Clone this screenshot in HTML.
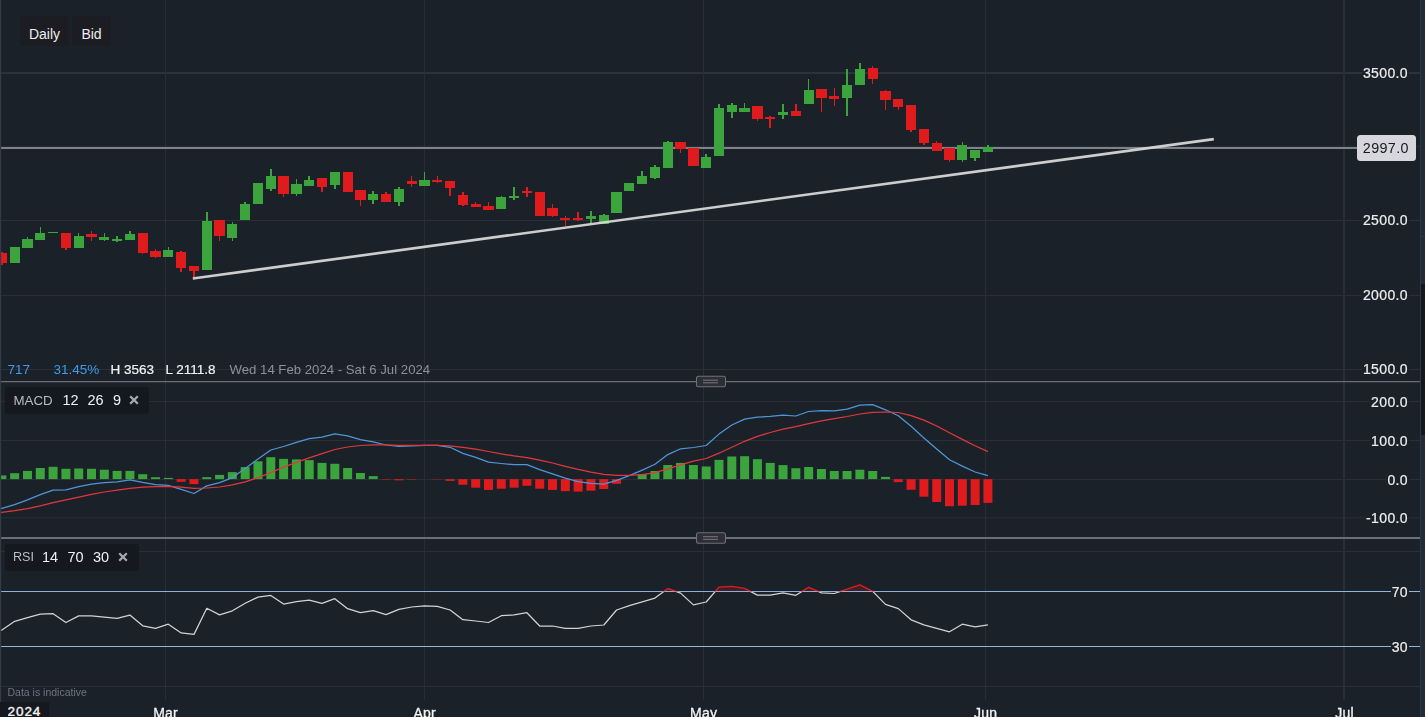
<!DOCTYPE html>
<html><head><meta charset="utf-8"><title>Chart</title>
<style>
html,body{margin:0;padding:0;}
html{overflow:hidden;width:1425px;height:717px;background:#1b2129;}
body{width:1425px;height:717px;overflow:hidden;background:#1b2129;position:relative;font-family:"Liberation Sans",sans-serif;}
.yl{position:absolute;right:16px;height:18px;line-height:18px;font-size:14px;color:#ececec;-webkit-text-stroke:0.22px #ececec;background:#1b2129;padding:0 1px 0 1px;letter-spacing:0.37px;white-space:nowrap;}
.gs{position:absolute;left:0;top:0;width:1425px;height:717px;will-change:transform;overflow:hidden;}
.xl{position:absolute;top:704.9px;height:12.1px;overflow:hidden;width:60px;text-align:center;font-size:14px;letter-spacing:0.2px;color:#f4f4f4;-webkit-text-stroke:0.3px #f4f4f4;line-height:16px;white-space:nowrap;}
.btn{position:absolute;top:16px;height:30px;line-height:36px;background:#1b1d22;border-radius:3px;color:#eeeeee;font-size:14px;text-align:center;}
.tag{position:absolute;left:5px;height:27px;line-height:27px;background:#15181e;border-radius:3px;font-size:14.5px;color:#f0f0f0;white-space:nowrap;}
.tag span{position:absolute;top:0;}
.info{position:absolute;top:360.6px;height:17px;line-height:17px;font-size:13.5px;white-space:nowrap;}
.med{-webkit-text-stroke:0.22px #f0f0f0;color:#f0f0f0;}
</style></head><body>
<svg width="1425" height="717" viewBox="0 0 1425 717" style="position:absolute;left:0;top:0">
<defs><clipPath id="plot"><rect x="0" y="0" width="1420" height="700"/></clipPath><clipPath id="above70"><rect x="0" y="540" width="1420" height="51.5"/></clipPath><clipPath id="below70"><rect x="0" y="591.5" width="1420" height="110"/></clipPath></defs>
<line x1="0" y1="73" x2="1420" y2="73" stroke="#2c323c" stroke-width="1.8"/>
<line x1="0" y1="146.7" x2="1420" y2="146.7" stroke="#2a2e38" stroke-width="1"/>
<line x1="0" y1="220.5" x2="1420" y2="220.5" stroke="#2a2e38" stroke-width="1"/>
<line x1="0" y1="295.5" x2="1420" y2="295.5" stroke="#2a2e38" stroke-width="1"/>
<line x1="0" y1="369.5" x2="1420" y2="369.5" stroke="#2a2e38" stroke-width="1"/>
<line x1="0" y1="401.5" x2="1420" y2="401.5" stroke="#2a2e38" stroke-width="1"/>
<line x1="0" y1="440.5" x2="1420" y2="440.5" stroke="#2a2e38" stroke-width="1"/>
<line x1="0" y1="479.5" x2="1420" y2="479.5" stroke="#2a2e38" stroke-width="1"/>
<line x1="0" y1="517.8" x2="1420" y2="517.8" stroke="#2a2e38" stroke-width="1"/>
<line x1="0" y1="551.5" x2="1420" y2="551.5" stroke="#2a2e38" stroke-width="1"/>
<line x1="0" y1="686.5" x2="1420" y2="686.5" stroke="#2a2e38" stroke-width="1"/>
<line x1="165.5" y1="0" x2="165.5" y2="700" stroke="#2a2e38" stroke-width="1"/>
<line x1="424.4" y1="0" x2="424.4" y2="700" stroke="#2a2e38" stroke-width="1"/>
<line x1="703.5" y1="0" x2="703.5" y2="700" stroke="#2a2e38" stroke-width="1"/>
<line x1="985.5" y1="0" x2="985.5" y2="700" stroke="#2a2e38" stroke-width="1"/>
<line x1="1344" y1="0" x2="1344" y2="700" stroke="#2a2e38" stroke-width="2"/>
<line x1="0" y1="381.6" x2="1420" y2="381.6" stroke="#6a6c79" stroke-width="1.3"/>
<line x1="0" y1="538" x2="1420" y2="538" stroke="#6c6e7c" stroke-width="2"/>
<line x1="0" y1="148" x2="1360" y2="148" stroke="#80828b" stroke-width="1.9"/>
<g clip-path="url(#plot)">
<rect x="1" y="252" width="2" height="13.00" fill="#df1b1d" shape-rendering="crispEdges"/>
<rect x="-2" y="253" width="9" height="10.00" fill="#df1b1d" shape-rendering="crispEdges"/>
<rect x="10" y="247" width="10" height="16.00" fill="#3ca43c" shape-rendering="crispEdges"/>
<rect x="27" y="237" width="1" height="11.00" fill="#3ca43c" shape-rendering="crispEdges"/>
<rect x="22" y="239" width="11" height="9.00" fill="#3ca43c" shape-rendering="crispEdges"/>
<rect x="40" y="227" width="1" height="13.00" fill="#3ca43c" shape-rendering="crispEdges"/>
<rect x="35" y="233" width="10" height="7.00" fill="#3ca43c" shape-rendering="crispEdges"/>
<rect x="48" y="232" width="10" height="1.00" fill="#3ca43c" shape-rendering="crispEdges"/>
<rect x="65" y="233" width="2" height="17.00" fill="#df1b1d" shape-rendering="crispEdges"/>
<rect x="61" y="233" width="10" height="15.00" fill="#df1b1d" shape-rendering="crispEdges"/>
<rect x="78" y="233" width="1" height="15.00" fill="#3ca43c" shape-rendering="crispEdges"/>
<rect x="74" y="235.9" width="10" height="12.10" fill="#3ca43c" shape-rendering="crispEdges"/>
<rect x="91" y="231" width="1" height="9.90" fill="#df1b1d" shape-rendering="crispEdges"/>
<rect x="86" y="234" width="11" height="3.00" fill="#df1b1d" shape-rendering="crispEdges"/>
<rect x="104" y="233" width="1" height="8.00" fill="#3ca43c" shape-rendering="crispEdges"/>
<rect x="99" y="237" width="10" height="3.00" fill="#3ca43c" shape-rendering="crispEdges"/>
<rect x="116" y="235.9" width="2" height="6.10" fill="#3ca43c" shape-rendering="crispEdges"/>
<rect x="112" y="239" width="10" height="2.00" fill="#3ca43c" shape-rendering="crispEdges"/>
<rect x="129" y="231" width="2" height="9.00" fill="#3ca43c" shape-rendering="crispEdges"/>
<rect x="125" y="234" width="10" height="6.00" fill="#3ca43c" shape-rendering="crispEdges"/>
<rect x="142" y="233" width="1" height="20.90" fill="#df1b1d" shape-rendering="crispEdges"/>
<rect x="138" y="233" width="10" height="20.00" fill="#df1b1d" shape-rendering="crispEdges"/>
<rect x="155" y="249" width="1" height="8.90" fill="#df1b1d" shape-rendering="crispEdges"/>
<rect x="150" y="251" width="11" height="5.90" fill="#df1b1d" shape-rendering="crispEdges"/>
<rect x="168" y="247" width="1" height="9.90" fill="#3ca43c" shape-rendering="crispEdges"/>
<rect x="163" y="250" width="10" height="6.90" fill="#3ca43c" shape-rendering="crispEdges"/>
<rect x="180" y="251" width="2" height="21.00" fill="#df1b1d" shape-rendering="crispEdges"/>
<rect x="176" y="252" width="10" height="16.00" fill="#df1b1d" shape-rendering="crispEdges"/>
<rect x="193" y="266" width="2" height="12.00" fill="#df1b1d" shape-rendering="crispEdges"/>
<rect x="189" y="266" width="10" height="4.90" fill="#df1b1d" shape-rendering="crispEdges"/>
<rect x="206" y="212" width="2" height="58.00" fill="#3ca43c" shape-rendering="crispEdges"/>
<rect x="202" y="221" width="10" height="49.00" fill="#3ca43c" shape-rendering="crispEdges"/>
<rect x="219" y="220" width="1" height="20.90" fill="#df1b1d" shape-rendering="crispEdges"/>
<rect x="214" y="220" width="11" height="15.90" fill="#df1b1d" shape-rendering="crispEdges"/>
<rect x="232" y="222" width="1" height="19.00" fill="#3ca43c" shape-rendering="crispEdges"/>
<rect x="227" y="224" width="10" height="14.00" fill="#3ca43c" shape-rendering="crispEdges"/>
<rect x="244" y="202" width="2" height="18.00" fill="#3ca43c" shape-rendering="crispEdges"/>
<rect x="240" y="204" width="10" height="16.00" fill="#3ca43c" shape-rendering="crispEdges"/>
<rect x="253" y="183" width="10" height="21.00" fill="#3ca43c" shape-rendering="crispEdges"/>
<rect x="270" y="169" width="2" height="22.00" fill="#3ca43c" shape-rendering="crispEdges"/>
<rect x="266" y="176" width="10" height="13.00" fill="#3ca43c" shape-rendering="crispEdges"/>
<rect x="283" y="176" width="1" height="21.00" fill="#df1b1d" shape-rendering="crispEdges"/>
<rect x="278" y="176" width="11" height="18.00" fill="#df1b1d" shape-rendering="crispEdges"/>
<rect x="296" y="179" width="1" height="17.00" fill="#3ca43c" shape-rendering="crispEdges"/>
<rect x="291" y="184" width="11" height="10.00" fill="#3ca43c" shape-rendering="crispEdges"/>
<rect x="308" y="176" width="2" height="10.00" fill="#3ca43c" shape-rendering="crispEdges"/>
<rect x="304" y="180" width="10" height="6.00" fill="#3ca43c" shape-rendering="crispEdges"/>
<rect x="321" y="178" width="2" height="14.00" fill="#df1b1d" shape-rendering="crispEdges"/>
<rect x="317" y="178" width="10" height="9.00" fill="#df1b1d" shape-rendering="crispEdges"/>
<rect x="334" y="172" width="2" height="17.00" fill="#3ca43c" shape-rendering="crispEdges"/>
<rect x="330" y="172" width="10" height="13.00" fill="#3ca43c" shape-rendering="crispEdges"/>
<rect x="343" y="172" width="10" height="20.00" fill="#df1b1d" shape-rendering="crispEdges"/>
<rect x="360" y="190" width="1" height="16.00" fill="#df1b1d" shape-rendering="crispEdges"/>
<rect x="355" y="190" width="11" height="10.00" fill="#df1b1d" shape-rendering="crispEdges"/>
<rect x="372" y="191" width="2" height="13.00" fill="#3ca43c" shape-rendering="crispEdges"/>
<rect x="368" y="194" width="10" height="6.00" fill="#3ca43c" shape-rendering="crispEdges"/>
<rect x="385" y="192" width="2" height="10.00" fill="#df1b1d" shape-rendering="crispEdges"/>
<rect x="381" y="194" width="10" height="8.00" fill="#df1b1d" shape-rendering="crispEdges"/>
<rect x="398" y="187" width="2" height="19.00" fill="#3ca43c" shape-rendering="crispEdges"/>
<rect x="394" y="189" width="10" height="13.00" fill="#3ca43c" shape-rendering="crispEdges"/>
<rect x="411" y="176" width="1" height="11.00" fill="#df1b1d" shape-rendering="crispEdges"/>
<rect x="407" y="181" width="10" height="3.00" fill="#df1b1d" shape-rendering="crispEdges"/>
<rect x="424" y="172" width="1" height="14.00" fill="#3ca43c" shape-rendering="crispEdges"/>
<rect x="419" y="180" width="11" height="6.00" fill="#3ca43c" shape-rendering="crispEdges"/>
<rect x="437" y="176" width="1" height="7.00" fill="#df1b1d" shape-rendering="crispEdges"/>
<rect x="432" y="180" width="10" height="2.00" fill="#df1b1d" shape-rendering="crispEdges"/>
<rect x="449" y="181" width="2" height="15.00" fill="#df1b1d" shape-rendering="crispEdges"/>
<rect x="445" y="181" width="10" height="7.00" fill="#df1b1d" shape-rendering="crispEdges"/>
<rect x="462" y="192" width="2" height="14.00" fill="#df1b1d" shape-rendering="crispEdges"/>
<rect x="458" y="195" width="10" height="10.00" fill="#df1b1d" shape-rendering="crispEdges"/>
<rect x="475" y="202" width="1" height="5.00" fill="#df1b1d" shape-rendering="crispEdges"/>
<rect x="471" y="204" width="10" height="3.00" fill="#df1b1d" shape-rendering="crispEdges"/>
<rect x="488" y="202" width="1" height="8.00" fill="#df1b1d" shape-rendering="crispEdges"/>
<rect x="483" y="206" width="11" height="4.00" fill="#df1b1d" shape-rendering="crispEdges"/>
<rect x="501" y="196" width="1" height="13.00" fill="#3ca43c" shape-rendering="crispEdges"/>
<rect x="496" y="197" width="10" height="12.00" fill="#3ca43c" shape-rendering="crispEdges"/>
<rect x="513" y="187" width="2" height="13.00" fill="#3ca43c" shape-rendering="crispEdges"/>
<rect x="509" y="196" width="10" height="2.00" fill="#3ca43c" shape-rendering="crispEdges"/>
<rect x="526" y="187" width="2" height="10.00" fill="#df1b1d" shape-rendering="crispEdges"/>
<rect x="522" y="191" width="10" height="2.00" fill="#df1b1d" shape-rendering="crispEdges"/>
<rect x="535" y="192" width="10" height="24.00" fill="#df1b1d" shape-rendering="crispEdges"/>
<rect x="552" y="204" width="1" height="13.00" fill="#df1b1d" shape-rendering="crispEdges"/>
<rect x="547" y="208" width="11" height="8.00" fill="#df1b1d" shape-rendering="crispEdges"/>
<rect x="565" y="216" width="1" height="10.00" fill="#df1b1d" shape-rendering="crispEdges"/>
<rect x="560" y="218" width="10" height="2.00" fill="#df1b1d" shape-rendering="crispEdges"/>
<rect x="577" y="212" width="2" height="9.00" fill="#df1b1d" shape-rendering="crispEdges"/>
<rect x="573" y="218" width="10" height="2.00" fill="#df1b1d" shape-rendering="crispEdges"/>
<rect x="590" y="211" width="2" height="12.00" fill="#3ca43c" shape-rendering="crispEdges"/>
<rect x="586" y="216" width="10" height="3.00" fill="#3ca43c" shape-rendering="crispEdges"/>
<rect x="603" y="214" width="2" height="10.00" fill="#3ca43c" shape-rendering="crispEdges"/>
<rect x="599" y="215" width="10" height="9.00" fill="#3ca43c" shape-rendering="crispEdges"/>
<rect x="611" y="192" width="11" height="21.00" fill="#3ca43c" shape-rendering="crispEdges"/>
<rect x="624" y="183" width="10" height="8.00" fill="#3ca43c" shape-rendering="crispEdges"/>
<rect x="641" y="171" width="2" height="13.00" fill="#3ca43c" shape-rendering="crispEdges"/>
<rect x="637" y="176" width="10" height="8.00" fill="#3ca43c" shape-rendering="crispEdges"/>
<rect x="654" y="165" width="2" height="14.00" fill="#3ca43c" shape-rendering="crispEdges"/>
<rect x="650" y="167" width="10" height="11.00" fill="#3ca43c" shape-rendering="crispEdges"/>
<rect x="667" y="141" width="2" height="27.00" fill="#3ca43c" shape-rendering="crispEdges"/>
<rect x="663" y="142" width="10" height="26.00" fill="#3ca43c" shape-rendering="crispEdges"/>
<rect x="680" y="142" width="1" height="11.00" fill="#df1b1d" shape-rendering="crispEdges"/>
<rect x="675" y="142" width="11" height="7.00" fill="#df1b1d" shape-rendering="crispEdges"/>
<rect x="688" y="148" width="11" height="18.00" fill="#df1b1d" shape-rendering="crispEdges"/>
<rect x="705" y="154" width="2" height="14.00" fill="#3ca43c" shape-rendering="crispEdges"/>
<rect x="701" y="157" width="10" height="11.00" fill="#3ca43c" shape-rendering="crispEdges"/>
<rect x="718" y="104" width="2" height="52.00" fill="#3ca43c" shape-rendering="crispEdges"/>
<rect x="714" y="108" width="10" height="48.00" fill="#3ca43c" shape-rendering="crispEdges"/>
<rect x="731" y="103" width="2" height="15.00" fill="#3ca43c" shape-rendering="crispEdges"/>
<rect x="727" y="105" width="10" height="7.00" fill="#3ca43c" shape-rendering="crispEdges"/>
<rect x="744" y="103" width="1" height="9.00" fill="#3ca43c" shape-rendering="crispEdges"/>
<rect x="739" y="108" width="11" height="4.00" fill="#3ca43c" shape-rendering="crispEdges"/>
<rect x="757" y="106" width="1" height="15.00" fill="#df1b1d" shape-rendering="crispEdges"/>
<rect x="752" y="106" width="11" height="13.00" fill="#df1b1d" shape-rendering="crispEdges"/>
<rect x="769" y="116" width="2" height="12.00" fill="#df1b1d" shape-rendering="crispEdges"/>
<rect x="765" y="117" width="10" height="2.00" fill="#df1b1d" shape-rendering="crispEdges"/>
<rect x="782" y="104" width="2" height="15.00" fill="#3ca43c" shape-rendering="crispEdges"/>
<rect x="778" y="112" width="10" height="3.00" fill="#3ca43c" shape-rendering="crispEdges"/>
<rect x="795" y="104" width="2" height="12.00" fill="#df1b1d" shape-rendering="crispEdges"/>
<rect x="791" y="111" width="10" height="5.00" fill="#df1b1d" shape-rendering="crispEdges"/>
<rect x="808" y="79" width="1" height="25.00" fill="#3ca43c" shape-rendering="crispEdges"/>
<rect x="804" y="90" width="10" height="14.00" fill="#3ca43c" shape-rendering="crispEdges"/>
<rect x="821" y="89" width="1" height="23.00" fill="#df1b1d" shape-rendering="crispEdges"/>
<rect x="816" y="89" width="11" height="9.00" fill="#df1b1d" shape-rendering="crispEdges"/>
<rect x="834" y="88" width="1" height="18.00" fill="#df1b1d" shape-rendering="crispEdges"/>
<rect x="829" y="96" width="10" height="3.00" fill="#df1b1d" shape-rendering="crispEdges"/>
<rect x="846" y="69" width="2" height="47.00" fill="#3ca43c" shape-rendering="crispEdges"/>
<rect x="842" y="85" width="10" height="13.00" fill="#3ca43c" shape-rendering="crispEdges"/>
<rect x="859" y="63" width="2" height="22.00" fill="#3ca43c" shape-rendering="crispEdges"/>
<rect x="855" y="69" width="10" height="16.00" fill="#3ca43c" shape-rendering="crispEdges"/>
<rect x="872" y="66" width="1" height="18.00" fill="#df1b1d" shape-rendering="crispEdges"/>
<rect x="868" y="68" width="10" height="11.00" fill="#df1b1d" shape-rendering="crispEdges"/>
<rect x="885" y="90" width="1" height="20.00" fill="#df1b1d" shape-rendering="crispEdges"/>
<rect x="880" y="91" width="11" height="9.00" fill="#df1b1d" shape-rendering="crispEdges"/>
<rect x="898" y="99" width="1" height="11.00" fill="#df1b1d" shape-rendering="crispEdges"/>
<rect x="893" y="99" width="10" height="8.00" fill="#df1b1d" shape-rendering="crispEdges"/>
<rect x="910" y="105" width="2" height="27.00" fill="#df1b1d" shape-rendering="crispEdges"/>
<rect x="906" y="105" width="10" height="25.00" fill="#df1b1d" shape-rendering="crispEdges"/>
<rect x="923" y="129" width="2" height="16.00" fill="#df1b1d" shape-rendering="crispEdges"/>
<rect x="919" y="129" width="10" height="14.00" fill="#df1b1d" shape-rendering="crispEdges"/>
<rect x="936" y="141" width="1" height="10.00" fill="#df1b1d" shape-rendering="crispEdges"/>
<rect x="932" y="143" width="10" height="8.00" fill="#df1b1d" shape-rendering="crispEdges"/>
<rect x="949" y="148" width="1" height="14.00" fill="#df1b1d" shape-rendering="crispEdges"/>
<rect x="944" y="148" width="11" height="12.00" fill="#df1b1d" shape-rendering="crispEdges"/>
<rect x="962" y="142" width="1" height="20.00" fill="#3ca43c" shape-rendering="crispEdges"/>
<rect x="957" y="145" width="10" height="15.00" fill="#3ca43c" shape-rendering="crispEdges"/>
<rect x="974" y="150" width="2" height="11.00" fill="#3ca43c" shape-rendering="crispEdges"/>
<rect x="970" y="150" width="10" height="8.00" fill="#3ca43c" shape-rendering="crispEdges"/>
<rect x="987" y="145" width="2" height="7.00" fill="#3ca43c" shape-rendering="crispEdges"/>
<rect x="983" y="147" width="10" height="5.00" fill="#3ca43c" shape-rendering="crispEdges"/>
</g>
<line x1="192.8" y1="278.5" x2="1213.8" y2="139.1" stroke="#dadada" stroke-width="2.65" stroke-opacity="0.93"/>
<g clip-path="url(#plot)">
<rect x="-2.63" y="475.40" width="9" height="3.70" fill="#3ca43c"/>
<rect x="10.17" y="473.20" width="9" height="5.90" fill="#3ca43c"/>
<rect x="22.98" y="470.90" width="9" height="8.20" fill="#3ca43c"/>
<rect x="35.79" y="468.00" width="9" height="11.10" fill="#3ca43c"/>
<rect x="48.59" y="466.80" width="9" height="12.30" fill="#3ca43c"/>
<rect x="61.40" y="468.80" width="9" height="10.30" fill="#3ca43c"/>
<rect x="74.20" y="468.50" width="9" height="10.60" fill="#3ca43c"/>
<rect x="87.01" y="468.80" width="9" height="10.30" fill="#3ca43c"/>
<rect x="99.82" y="469.70" width="9" height="9.40" fill="#3ca43c"/>
<rect x="112.62" y="470.90" width="9" height="8.20" fill="#3ca43c"/>
<rect x="125.43" y="470.90" width="9" height="8.20" fill="#3ca43c"/>
<rect x="138.23" y="474.20" width="9" height="4.90" fill="#3ca43c"/>
<rect x="151.04" y="477.20" width="9" height="1.90" fill="#3ca43c"/>
<rect x="163.85" y="477.90" width="9" height="1.20" fill="#3ca43c"/>
<rect x="176.65" y="479.10" width="9" height="2.70" fill="#df1b1d"/>
<rect x="189.46" y="479.10" width="9" height="5.00" fill="#df1b1d"/>
<rect x="202.26" y="477.10" width="9" height="2.00" fill="#3ca43c"/>
<rect x="215.07" y="474.90" width="9" height="4.20" fill="#3ca43c"/>
<rect x="227.88" y="472.10" width="9" height="7.00" fill="#3ca43c"/>
<rect x="240.68" y="467.10" width="9" height="12.00" fill="#3ca43c"/>
<rect x="253.49" y="461.30" width="9" height="17.80" fill="#3ca43c"/>
<rect x="266.29" y="457.20" width="9" height="21.90" fill="#3ca43c"/>
<rect x="279.10" y="458.90" width="9" height="20.20" fill="#3ca43c"/>
<rect x="291.91" y="459.40" width="9" height="19.70" fill="#3ca43c"/>
<rect x="304.71" y="460.10" width="9" height="19.00" fill="#3ca43c"/>
<rect x="317.52" y="462.90" width="9" height="16.20" fill="#3ca43c"/>
<rect x="330.32" y="463.80" width="9" height="15.30" fill="#3ca43c"/>
<rect x="343.13" y="468.00" width="9" height="11.10" fill="#3ca43c"/>
<rect x="355.94" y="473.00" width="9" height="6.10" fill="#3ca43c"/>
<rect x="368.74" y="476.10" width="9" height="3.00" fill="#3ca43c"/>
<rect x="381.55" y="479.10" width="9" height="0.50" fill="#df1b1d"/>
<rect x="394.35" y="479.10" width="9" height="1.20" fill="#df1b1d"/>
<rect x="407.16" y="479.10" width="9" height="0.50" fill="#df1b1d"/>
<rect x="432.77" y="479.10" width="9" height="0.30" fill="#df1b1d"/>
<rect x="445.58" y="479.10" width="9" height="1.80" fill="#df1b1d"/>
<rect x="458.38" y="479.10" width="9" height="5.70" fill="#df1b1d"/>
<rect x="471.19" y="479.10" width="9" height="8.60" fill="#df1b1d"/>
<rect x="484.00" y="479.10" width="9" height="10.80" fill="#df1b1d"/>
<rect x="496.80" y="479.10" width="9" height="9.60" fill="#df1b1d"/>
<rect x="509.61" y="479.10" width="9" height="8.60" fill="#df1b1d"/>
<rect x="522.41" y="479.10" width="9" height="6.70" fill="#df1b1d"/>
<rect x="535.22" y="479.10" width="9" height="9.60" fill="#df1b1d"/>
<rect x="548.03" y="479.10" width="9" height="10.80" fill="#df1b1d"/>
<rect x="560.83" y="479.10" width="9" height="12.10" fill="#df1b1d"/>
<rect x="573.64" y="479.10" width="9" height="12.50" fill="#df1b1d"/>
<rect x="586.44" y="479.10" width="9" height="11.60" fill="#df1b1d"/>
<rect x="599.25" y="479.10" width="9" height="9.90" fill="#df1b1d"/>
<rect x="612.06" y="479.10" width="9" height="4.70" fill="#df1b1d"/>
<rect x="637.67" y="474.20" width="9" height="4.90" fill="#3ca43c"/>
<rect x="650.47" y="471.00" width="9" height="8.10" fill="#3ca43c"/>
<rect x="663.28" y="465.00" width="9" height="14.10" fill="#3ca43c"/>
<rect x="676.09" y="462.90" width="9" height="16.20" fill="#3ca43c"/>
<rect x="688.89" y="465.00" width="9" height="14.10" fill="#3ca43c"/>
<rect x="701.70" y="466.50" width="9" height="12.60" fill="#3ca43c"/>
<rect x="714.50" y="459.90" width="9" height="19.20" fill="#3ca43c"/>
<rect x="727.31" y="456.50" width="9" height="22.60" fill="#3ca43c"/>
<rect x="740.12" y="456.20" width="9" height="22.90" fill="#3ca43c"/>
<rect x="752.92" y="459.20" width="9" height="19.90" fill="#3ca43c"/>
<rect x="765.73" y="462.90" width="9" height="16.20" fill="#3ca43c"/>
<rect x="778.53" y="465.10" width="9" height="14.00" fill="#3ca43c"/>
<rect x="791.34" y="468.20" width="9" height="10.90" fill="#3ca43c"/>
<rect x="804.15" y="467.00" width="9" height="12.10" fill="#3ca43c"/>
<rect x="816.95" y="469.00" width="9" height="10.10" fill="#3ca43c"/>
<rect x="829.76" y="471.00" width="9" height="8.10" fill="#3ca43c"/>
<rect x="842.56" y="471.00" width="9" height="8.10" fill="#3ca43c"/>
<rect x="855.37" y="469.70" width="9" height="9.40" fill="#3ca43c"/>
<rect x="868.18" y="471.00" width="9" height="8.10" fill="#3ca43c"/>
<rect x="880.98" y="476.90" width="9" height="2.20" fill="#3ca43c"/>
<rect x="893.79" y="479.10" width="9" height="3.00" fill="#df1b1d"/>
<rect x="906.59" y="479.10" width="9" height="10.70" fill="#df1b1d"/>
<rect x="919.40" y="479.10" width="9" height="17.60" fill="#df1b1d"/>
<rect x="932.21" y="479.10" width="9" height="22.90" fill="#df1b1d"/>
<rect x="945.01" y="479.10" width="9" height="27.10" fill="#df1b1d"/>
<rect x="957.82" y="479.10" width="9" height="26.60" fill="#df1b1d"/>
<rect x="970.62" y="479.10" width="9" height="25.90" fill="#df1b1d"/>
<rect x="983.43" y="479.10" width="9" height="23.80" fill="#df1b1d"/>
<polyline points="-10.9,511.8 1.9,508.3 14.7,504.6 27.5,499.9 40.3,494.7 53.1,490.2 65.9,489.8 78.7,486.6 91.5,484.1 104.3,482.7 117.1,481.9 129.9,479.9 142.7,482.4 155.5,484.6 168.3,485.4 181.2,489.3 194.0,493.5 206.8,485.9 219.6,482.6 232.4,477.6 245.2,468.5 258.0,459.1 270.8,450 283.6,446.5 296.4,442.4 309.2,438.6 322.0,437.2 334.8,433.9 347.6,435.9 360.4,439.7 373.2,441.9 386.0,445 398.9,446.3 411.7,446 424.5,445.3 437.3,445.3 450.1,447.3 462.9,453.4 475.7,457.4 488.5,462.1 501.3,463.5 514.1,464.7 526.9,464.7 539.7,469.7 552.5,473.9 565.3,478.1 578.1,481.7 590.9,483.4 603.8,484.2 616.6,480.3 629.4,475.6 642.2,470.1 655.0,464.3 667.8,454.6 680.6,448.8 693.4,447.5 706.2,445.5 719.0,434.1 731.8,425 744.6,419.1 757.4,417.2 770.2,416.4 783.0,415.2 795.8,416 808.6,411.5 821.5,410.7 834.3,410.8 847.1,409.1 859.9,405.1 872.7,404.6 885.5,409.8 898.3,415.7 911.1,426.3 923.9,438 936.7,448.9 949.5,459.8 962.3,466.1 975.1,472 987.9,475.7" fill="none" stroke="#4f96d8" stroke-width="1.25" stroke-linejoin="round" />
<polyline points="-10.9,514 1.9,512.4 14.7,510.7 27.5,508.7 40.3,505.8 53.1,502.6 65.9,499.9 78.7,497.1 91.5,494.4 104.3,492 117.1,490.2 129.9,488.3 142.7,487.1 155.5,486.6 168.3,486.3 181.2,487.1 194.0,488.3 206.8,488 219.6,487 232.4,484.8 245.2,481.8 258.0,477.6 270.8,472.6 283.6,467.2 296.4,462.3 309.2,457.8 322.0,453.7 334.8,449.5 347.6,447 360.4,445.5 373.2,444.8 386.0,444.8 398.9,445.3 411.7,445.3 424.5,445.3 437.3,445.3 450.1,445.8 462.9,447.4 475.7,449.2 488.5,451.5 501.3,453.9 514.1,455.9 526.9,457.6 539.7,460.1 552.5,463 565.3,466.3 578.1,469.4 590.9,472.2 603.8,474.4 616.6,475.4 629.4,475.4 642.2,474.6 655.0,472.6 667.8,468.9 680.6,464.8 693.4,461.2 706.2,458.5 719.0,453.2 731.8,447.2 744.6,441.3 757.4,436.4 770.2,432.5 783.0,429.2 795.8,426.6 808.6,423.6 821.5,420.8 834.3,418.6 847.1,416.5 859.9,414 872.7,412.3 885.5,412 898.3,412.5 911.1,415.6 923.9,420.1 936.7,426 949.5,432.7 962.3,439.4 975.1,445.7 987.9,451.6" fill="none" stroke="#e0383d" stroke-width="1.25" stroke-linejoin="round" />
</g>
<line x1="0" y1="591.5" x2="1420" y2="591.5" stroke="#8db6e2" stroke-width="1"/>
<line x1="0" y1="646.5" x2="1420" y2="646.5" stroke="#8db6e2" stroke-width="1"/>
<polygon points="-10.9,591.5 -10.9,637 1.9,630 14.7,621.3 27.5,617.6 40.3,614.2 53.1,613.7 65.9,622.5 78.7,615.9 91.5,615.9 104.3,617.1 117.1,618.4 129.9,615.1 142.7,625.8 155.5,628.4 168.3,624.2 181.2,632.9 194.0,634.4 206.8,608.3 219.6,614.9 232.4,610.8 245.2,603.3 258.0,597.1 270.8,595.4 283.6,604.1 296.4,601.6 309.2,600.1 322.0,603.3 334.8,598.7 347.6,608.7 360.4,612.7 373.2,610.7 386.0,614.6 398.9,609.3 411.7,607 424.5,605.8 437.3,606.3 450.1,610 462.9,619.7 475.7,621 488.5,622.5 501.3,615.7 514.1,614.9 526.9,612.7 539.7,626 552.5,626 565.3,628.4 578.1,628.4 590.9,626 603.8,625 616.6,610 629.4,605.6 642.2,601.9 655.0,598.1 667.8,588.5 680.6,593.1 693.4,604.9 706.2,602 719.0,587.1 731.8,586.4 744.6,588.4 757.4,595.1 770.2,595.1 783.0,592.9 795.8,595.3 808.6,587.4 821.5,592.8 834.3,593.5 847.1,589.2 859.9,584.9 872.7,591.4 885.5,604.4 898.3,608.6 911.1,619.8 923.9,624.8 936.7,628.3 949.5,631.8 962.3,624.2 975.1,626.9 987.9,624.8 987.9,591.5" fill="#df1b1d" fill-opacity="0.2" clip-path="url(#above70)"/>
<polyline points="-10.9,637 1.9,630 14.7,621.3 27.5,617.6 40.3,614.2 53.1,613.7 65.9,622.5 78.7,615.9 91.5,615.9 104.3,617.1 117.1,618.4 129.9,615.1 142.7,625.8 155.5,628.4 168.3,624.2 181.2,632.9 194.0,634.4 206.8,608.3 219.6,614.9 232.4,610.8 245.2,603.3 258.0,597.1 270.8,595.4 283.6,604.1 296.4,601.6 309.2,600.1 322.0,603.3 334.8,598.7 347.6,608.7 360.4,612.7 373.2,610.7 386.0,614.6 398.9,609.3 411.7,607 424.5,605.8 437.3,606.3 450.1,610 462.9,619.7 475.7,621 488.5,622.5 501.3,615.7 514.1,614.9 526.9,612.7 539.7,626 552.5,626 565.3,628.4 578.1,628.4 590.9,626 603.8,625 616.6,610 629.4,605.6 642.2,601.9 655.0,598.1 667.8,588.5 680.6,593.1 693.4,604.9 706.2,602 719.0,587.1 731.8,586.4 744.6,588.4 757.4,595.1 770.2,595.1 783.0,592.9 795.8,595.3 808.6,587.4 821.5,592.8 834.3,593.5 847.1,589.2 859.9,584.9 872.7,591.4 885.5,604.4 898.3,608.6 911.1,619.8 923.9,624.8 936.7,628.3 949.5,631.8 962.3,624.2 975.1,626.9 987.9,624.8" fill="none" stroke="#d2d2d2" stroke-width="1.25" stroke-linejoin="round" clip-path="url(#below70)"/>
<polyline points="-10.9,637 1.9,630 14.7,621.3 27.5,617.6 40.3,614.2 53.1,613.7 65.9,622.5 78.7,615.9 91.5,615.9 104.3,617.1 117.1,618.4 129.9,615.1 142.7,625.8 155.5,628.4 168.3,624.2 181.2,632.9 194.0,634.4 206.8,608.3 219.6,614.9 232.4,610.8 245.2,603.3 258.0,597.1 270.8,595.4 283.6,604.1 296.4,601.6 309.2,600.1 322.0,603.3 334.8,598.7 347.6,608.7 360.4,612.7 373.2,610.7 386.0,614.6 398.9,609.3 411.7,607 424.5,605.8 437.3,606.3 450.1,610 462.9,619.7 475.7,621 488.5,622.5 501.3,615.7 514.1,614.9 526.9,612.7 539.7,626 552.5,626 565.3,628.4 578.1,628.4 590.9,626 603.8,625 616.6,610 629.4,605.6 642.2,601.9 655.0,598.1 667.8,588.5 680.6,593.1 693.4,604.9 706.2,602 719.0,587.1 731.8,586.4 744.6,588.4 757.4,595.1 770.2,595.1 783.0,592.9 795.8,595.3 808.6,587.4 821.5,592.8 834.3,593.5 847.1,589.2 859.9,584.9 872.7,591.4 885.5,604.4 898.3,608.6 911.1,619.8 923.9,624.8 936.7,628.3 949.5,631.8 962.3,624.2 975.1,626.9 987.9,624.8" fill="none" stroke="#df1b1d" stroke-width="1.4" stroke-linejoin="round" clip-path="url(#above70)"/>
<rect x="696.5" y="376.3" width="29" height="10.4" rx="2" fill="#2e2e35" stroke="#6e707d" stroke-width="1.05"/>
<line x1="703" y1="380.2" x2="718" y2="380.2" stroke="#7f818e" stroke-width="0.9"/>
<line x1="703" y1="382.8" x2="718" y2="382.8" stroke="#7f818e" stroke-width="0.9"/>
<rect x="696.5" y="532.8" width="29" height="10.4" rx="2" fill="#2e2e35" stroke="#6e707d" stroke-width="1.05"/>
<line x1="703" y1="536.7" x2="718" y2="536.7" stroke="#7f818e" stroke-width="0.9"/>
<line x1="703" y1="539.3" x2="718" y2="539.3" stroke="#7f818e" stroke-width="0.9"/>
<rect x="1420" y="0" width="5" height="717" fill="#222b36"/>
<rect x="1421" y="283" width="4" height="153" fill="#14181f"/>
<rect x="1420" y="0" width="1" height="717" fill="#2b3748"/>
<rect x="1421" y="282.5" width="4" height="1" fill="#2b3748"/><rect x="1421" y="435.5" width="4" height="1" fill="#2b3748"/><rect x="1421" y="236" width="4" height="1" fill="#2b3748"/>
<rect x="0" y="0" width="1.2" height="702" fill="#313b4a"/>
</svg>
<div class="gs"><div class="yl" style="top:63.9px">3500.0</div><div class="yl" style="top:210.7px">2500.0</div><div class="yl" style="top:285.7px">2000.0</div><div class="yl" style="top:359.7px">1500.0</div><div class="yl" style="top:392.5px">200.0</div><div class="yl" style="top:431.5px">100.0</div><div class="yl" style="top:470.5px">0.0</div><div class="yl" style="top:508.8px">-100.0</div><div class="yl" style="top:583.0px">70</div><div class="yl" style="top:638.0px">30</div>
<div class="yl" style="-webkit-text-stroke:0;top:135.1px;right:8.8px;height:26px;line-height:26.6px;width:53.4px;padding:0 0 0 6.1px;text-align:left;background:#d6d6dc;color:#17191f;border-radius:3.5px;font-size:14.3px;letter-spacing:0.38px;">2997.0</div>
<div class="xl" style="left:135.6px">Mar</div><div class="xl" style="left:394.6px">Apr</div><div class="xl" style="left:673.6px">May</div><div class="xl" style="left:955.6px">Jun</div><div class="xl" style="left:1314.6px">Jul</div></div>
<div style="position:absolute;left:0;top:702px;width:49px;height:15px;background:#15181e;"></div>
<div class="xl med" style="left:7.5px;top:703.9px;width:auto;text-align:left;font-size:13.5px;letter-spacing:0.95px;-webkit-text-stroke:0.4px #f4f4f4;">2024</div>
<div class="btn" style="left:20px;width:49px;">Daily</div>
<div class="btn" style="left:72px;width:39px;">Bid</div>
<div class="info" style="left:7.5px;color:#3d9bea;">717</div>
<div class="info" style="left:53.5px;color:#3d9bea;">31.45%</div>
<div class="info med" style="left:110.5px;">H 3563</div>
<div class="info med" style="left:165.5px;">L 2111.8</div>
<div class="info" style="left:229.5px;color:#8c909c;font-size:13.2px;">Wed 14 Feb 2024 - Sat 6 Jul 2024</div>
<div class="tag" style="top:387px;width:144px;"><span style="left:8.5px;color:#babcc4;font-size:13.3px;">MACD</span><span style="left:57.5px;">12</span><span style="left:82.5px;">26</span><span style="left:108px;">9</span><svg width="10" height="10" viewBox="0 0 10 10" style="position:absolute;left:124px;top:7.8px"><path d="M1.2 1.2 L8.8 8.8 M8.8 1.2 L1.2 8.8" stroke="#a6a8b5" stroke-width="2.3" fill="none"/></svg></div>
<div class="tag" style="top:544px;width:134px;"><span style="left:8px;color:#babcc4;font-size:12.6px;">RSI</span><span style="left:37px;">14</span><span style="left:62.5px;">70</span><span style="left:88px;">30</span><svg width="10" height="10" viewBox="0 0 10 10" style="position:absolute;left:113px;top:7.8px"><path d="M1.2 1.2 L8.8 8.8 M8.8 1.2 L1.2 8.8" stroke="#a6a8b5" stroke-width="2.3" fill="none"/></svg></div>
<div style="position:absolute;left:7.5px;top:684.6px;font-size:10.5px;line-height:14px;color:#6d7380;white-space:nowrap;">Data is indicative</div>
</body></html>
